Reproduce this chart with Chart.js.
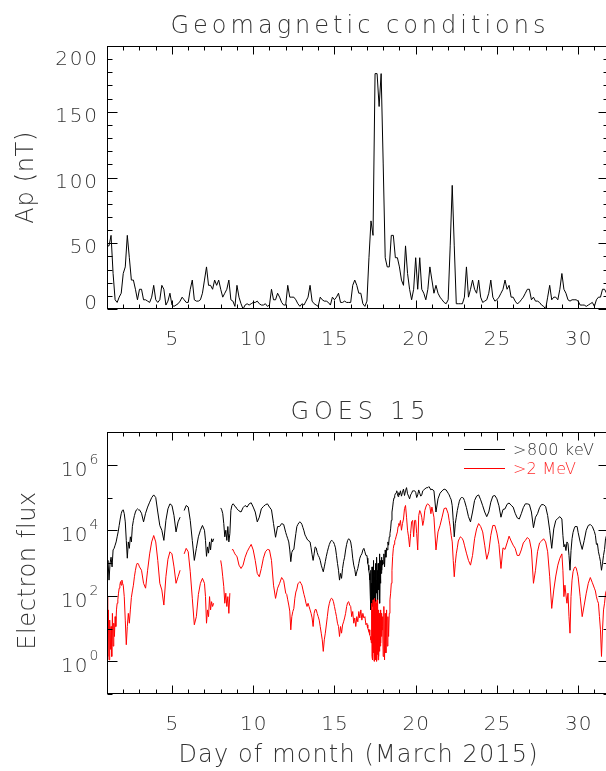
<!DOCTYPE html>
<html>
<head>
<meta charset="utf-8">
<script src="https://cdn.jsdelivr.net/npm/chart.js@4.4.1/dist/chart.umd.min.js"></script>
<style>
  html, body { margin: 0; padding: 0; background: #fff; overflow: hidden; }
  #wrap { position: relative; width: 606px; height: 771px; overflow: hidden; }
  canvas { position: absolute; left: 0; }
  #apChart { top: 0; }
  #fluxChart { top: 385px; }
</style>
</head>
<body>
<div id="wrap">
  <canvas id="apChart" width="620" height="385"></canvas>
  <canvas id="fluxChart" width="620" height="386"></canvas>
</div>
<script>
// 3-hourly ap index, March 2015 (8 values per day, starting 1 March 00 UT)
const apValues = [
  48, 48, 56, 27, 7, 5, 9, 12,
  27, 32, 56, 39, 22, 22, 15, 7,
  15, 15, 7, 7, 6, 5, 9, 18,
  7, 5, 7, 18, 15, 3, 6, 12,
  3, 2, 3, 4, 6, 9, 7, 5,
  5, 15, 22, 7, 6, 6, 7, 12,
  22, 32, 18, 18, 15, 22, 18, 22,
  15, 9, 12, 15, 22, 7, 6, 2,
  18, 9, 4, 0, 3, 4, 3, 4,
  5, 5, 6, 4, 3, 3, 4, 2,
  3, 15, 7, 7, 12, 9, 5, 3,
  3, 18, 9, 9, 9, 7, 4, 2,
  4, 3, 6, 9, 18, 6, 4, 3,
  2, 9, 7, 6, 6, 5, 3, 9,
  7, 9, 12, 5, 5, 6, 5, 5,
  5, 18, 22, 18, 12, 12, 4, 2,
  6, 39, 67, 56, 179, 179, 154, 179,
  111, 39, 32, 32, 56, 56, 39, 39,
  32, 22, 18, 48, 27, 15, 7, 15,
  39, 15, 39, 15, 12, 7, 15, 32,
  22, 12, 18, 12, 9, 7, 5, 4,
  7, 48, 94, 48, 4, 4, 4, 4,
  9, 32, 9, 15, 22, 15, 12, 22,
  9, 5, 6, 7, 12, 22, 9, 6,
  7, 9, 12, 15, 22, 15, 18, 9,
  9, 6, 4, 5, 7, 9, 12, 15,
  15, 7, 9, 6, 6, 5, 3, 2,
  0, 9, 18, 7, 9, 9, 7, 15,
  27, 15, 12, 7, 6, 7, 7, 7,
  6, 3, 3, 3, 2, 3, 4, 5,
  2, 7, 9, 9, 15, 15, 12, 12
];

// GOES 15 >800 keV electron flux, one row per day, samples evenly spread over the day
const flux800 = [
  [6.0e2, 1.2e3, 3.0e2, 9.7e2, 1.5e3, 7.6e2, 2.5e3, 2.8e3, 3.5e3, 4.4e3, 6.3e3, 8.9e3, 1.4e4, 2.2e4, 3.2e4, 4.0e4],
  [4.2e4, 3.2e4, 1.8e4, 4.9e3, 1.4e3, 4.4e3, 2.8e3, 6.3e3, 4.4e3, 1.3e4, 2.0e4, 2.8e4, 3.6e4, 4.2e4, 4.5e4, 4.2e4],
  [4.2e4, 3.3e4, 1.8e4, 3.3e4, 5.1e4, 7.2e4, 9.9e4, 1.2e5],
  [1.0e5, 3.6e4, 1.4e4, 1.0e4, 4.9e3, 2.0e4, 4.5e4, 6.4e4],
  [5.7e4, 2.8e4, 8.9e3, 1.8e4, 2.5e4, null, 4.0e4, 5.7e4],
  [5.1e4, 2.0e4, 4.9e3, 1.2e3, 2.8e3, 6.3e3, 1.0e4, 1.4e4],
  [1.0e4, 4.9e3, 1.6e3, 3.1e3, 2.0e3, 4.4e3, 2.5e3, 5.5e3, 4.4e3, 5.5e3, null, null, null, null, null, null],
  [4.8e4, 4.2e4, 3.2e4, 1.6e4, 6.3e3, 1.0e4, 4.9e3, 1.3e4, 4.4e3, 7.9e3, 4.0e4, 5.7e4, 6.4e4, 6.1e4, 5.3e4, 5.1e4],
  [4.5e4, 3.9e4, 3.6e4, 4.9e4, 5.7e4, 5.1e4, 6.4e4, 6.9e4],
  [5.1e4, 3.6e4, 1.8e4, 2.5e4, 4.5e4, 5.3e4, 6.0e4, 6.4e4],
  [5.1e4, 4.2e4, 1.6e4, 6.1e3, 1.3e4, 1.3e4, 1.6e4, 1.5e4],
  [8.6e3, 6.8e3, 5.5e3, 4.4e3, 2.5e3, 1.1e3, 2.1e3, 2.5e3, 2.6e3, 4.7e3, 7.9e3, 1.3e4, 1.5e4, 1.7e4, 1.8e4, 1.7e4],
  [1.5e4, 1.2e4, 9.6e3, 7.2e3, 6.3e3, 5.4e3, 4.9e3, 4.7e3, 4.4e3, 2.9e3, 1.8e3, 1.2e3, 1.9e3, 3.1e3, 2.9e3, 2.1e3],
  [1.7e3, 1.5e3, 1.2e3, 8.6e2, 6.8e2, 5.4e2, 7.6e2, 1.1e3, 1.6e3, 2.2e3, 2.9e3, 3.7e3, 4.4e3, 4.9e3, 4.7e3, 4.4e3],
  [3.7e3, 2.9e3, 1.7e3, 9.7e2, 6.0e2, 3.0e2, 4.8e2, 3.4e2, 6.8e2, 1.1e3, 1.5e3, 2.5e3, 3.7e3, 4.9e3, 5.5e3, 5.2e3],
  [4.4e3, 2.8e3, 1.4e3, 8.6e2, 6.4e2, 4.0e2, 5.4e2, 6.8e2, 9.7e2, 1.4e3, 1.7e3, 1.9e3, 2.5e3, 2.8e3, 2.2e3, 1.7e3],
  [1.7e3, 1.4e3, 1.2e3, 9.7e2, 8.6e2, 6.8e2, 6.0e2, 4.8e2, 3.8e2, 3.0e2,
   94, 6.0e2, 37, 2.4e2, 59, 7.6e2, 47, 3.0e2, 94, 1.2e3, 59, 3.8e2, 75, 6.0e2, 1.5e2, 9.7e2, 47, 3.0e2, 1.2e2,
   1.5e3, 2.4e2, 6.0e2, 75, 9.7e2, 1.5e2, 4.8e2, 3.0e2, 1.9e3, 59, 7.6e2, 2.4e2, 1.2e3, 4.8e2, 1.5e3, 6.0e2, 1.2e3, 8.6e2, 1.1e3],
  [9.7e2, 1.9e3, 7.6e2, 2.5e3, 1.5e3, 2.9e3, 2.5e3, 4.4e3, 3.5e3, 6.3e3, 7.9e3, 1.1e4, 2.0e4, 3.6e4, 5.1e4, 7.7e4, 9.8e4, 1.15e5, 1.3e5, 1.4e5, 1.6e5, 1.3e5, 1.07e5, 1.4e5],
  [1.2e5, 1.6e5, 1.1e5, 1.45e5, 1.8e5, 1.15e5, 1.6e5, 2.0e5, 1.3e5, 1.1e5, 9.1e4, 1.2e5, 1.35e5, 1.6e5, 1.6e5, 1.6e5],
  [1.45e5, 1.0e5, 1.2e5, 1.7e5, 1.35e5, 1.1e5, 1.2e5, 1.6e5, 1.7e5, 1.8e5, 1.95e5, 2.0e5, 2.0e5, 2.15e5, 1.95e5, 1.7e5],
  [1.8e5, 1.6e5, 3.6e4, 9.1e4, 1.35e5, 1.6e5, 1.8e5, 1.7e5],
  [1.35e5, 1.2e5, 1.0e5, 8.5e4, 5.6e4, 2.0e4, 6.3e3, 1.6e4, 2.5e4, 4.0e4, 5.6e4, 7.7e4, 9.1e4, 1.0e5, 1.0e5, 9.6e4],
  [8.1e4, 4.9e4, 2.6e4, 1.8e4, 3.6e4, 8.1e4, 1.1e5, 1.2e5],
  [8.5e4, 5.6e4, 3.6e4, 2.6e4, 3.6e4, 7.2e4, 1.1e5, 1.15e5],
  [9.1e4, 5.6e4, 2.5e4, 4.3e4, 4.5e4, 6.2e4, 6.8e4, 5.8e4],
  [5.1e4, 3.3e4, 2.4e4, 2.2e4, 3.2e4, 4.9e4, 6.4e4, 6.4e4],
  [6.1e4, 3.6e4, 1.2e4, 2.5e4, 3.2e4, 4.9e4, 6.1e4, 6.0e4],
  [5.3e4, 2.8e4, 1.0e4, 2.8e3, 1.1e4, 2.0e4, 2.3e4, 2.6e4],
  [2.2e4, 7.0e3, 3.1e3, 3.7e3, 2.4e3, 4.4e3, 3.9e3, 1.7e3, 6.0e2, 2.4e3, 5.5e3, 8.6e3, 1.1e4, 1.3e4, 1.3e4, 1.3e4],
  [8.6e3, 4.4e3, 2.6e3, 4.9e3, 1.0e4, 1.4e4, 1.5e4, 1.3e4],
  [9.1e3, 7.0e3, 3.7e3, 3.9e3, 2.2e3, 1.6e3, 1.1e3, 6.0e2, 9.7e2, 1.7e3, 2.6e3, 5.5e3, 7.0e3, 7.9e3, 8.6e3, 8.6e3]
];

// GOES 15 >2 MeV electron flux, same layout
const flux2MeV = [
  [94, 1.4, 37, 1.1, 18, 2.3, 11.5, 1.4, 29, 2.9, 14.5, 5.7, 23, 11.5, 37, 59, 75, 120, 170, 210, 270, 210, 300, 240],
  [210, 94, 18, 3.2, 11.5, 29, 14.5, 37, 88, 140, 210, 380, 600, 860, 1.0e3, 9.2e2],
  [7.6e2, 6.0e2, 2.4e2, 1.7e2, 6.0e2, 1.9e3, 4.4e3, 6.9e3],
  [4.4e3, 1.2e3, 2.4e2, 1.5e2, 52, 3.8e2, 1.3e3, 2.2e3],
  [1.9e3, 7.6e2, 2.4e2, 3.8e2, 6.0e2, null, 1.9e3, 2.8e3],
  [2.2e3, 5.4e2, 84, 13, 23, 1.1e2, 2.4e2, 3.4e2],
  [2.4e2, 94, 14.5, 37, 23, 94, 37, 66, 47, 59, null, null, null, null, null, null],
  [1.2e3, 7.6e2, 3.8e2, 1.9e2, 59, 1.2e2, 47, 94, 29, 1.2e2, null, 2.5e3, 2.6e3, 2.2e3, 1.9e3, 1.7e3],
  [1.6e3, 8.6e2, 6.8e2, 8.6e2, 1.5e3, 2.2e3, 2.9e3, 3.7e3],
  [2.5e3, 1.2e3, 4.8e2, 3.8e2, 6.8e2, 1.4e3, 2.2e3, 2.6e3],
  [2.5e3, 1.2e3, 2.1e2, 83, 1.7e2, 2.4e2, 3.6e2, 2.9e2],
  [1.2e2, 1.1e2, 75, 52, 34, 9.1, 23, 33, 41, 84, 1.3e2, 1.6e2, 2.3e2, 2.5e2, 2.7e2, 2.4e2],
  [2.1e2, 1.5e2, 1.1e2, 84, 59, 47, 59, 47, 37, 29, 21, 11.5, 29, 38, 38, 29],
  [23, 18, 11.5, 7.2, 4.5, 2.0, 4.5, 7.2, 12.8, 23, 42, 59, 75, 84, 80, 66],
  [47, 33, 23, 14.5, 11.5, 5.7, 11.5, 7.2, 12.8, 16, 21, 29, 47, 62, 66, 52],
  [47, 23, 33, 14.5, 21, 11.5, 23, 16, 33, 21, 37, 18, 29, 21, 23, 13],
  [14.5, 11.5, 13, 10.3, 9.1, 9.6, 8.1, 7.2, 9.1, 6.4, 5.7, 4.5, 5.1, 3.6,
   59, 1.4, 37, 1.1, 75, 1.8, 47, 1.0, 84, 1.4, 29, 1.1, 66, 1.3, 59, 1.0, 75, 1.6,
   47, 1.1, 37, 1.4, 29, 2.0, 23, 2.9, 37, 3.6, 29, 5.7, 18, 9.1, 23, 11.5],
  [1.4, 47, 1.1, 29, 1.8, 37, 2.9, 23, 5.7, 29, 75, 1.2e2, 2.4e2, 6.0e2, 1.6e3, 2.8e3, 3.7e3, 4.7e3, 5.2e3, 6.3e3, 6.3e3, 8.9e3, 1.3e4, 1.6e4],
  [1.4e4, 2.0e4, 1.0e4, 1.6e4, 2.2e4, 4.6e4, 5.7e4, 2.5e4, 1.0e4, 6.3e3, 3.1e3, 7.9e3, 1.8e4, 2.0e4, 6.3e3, 2.0e4],
  [2.0e4, 7.9e3, 2.5e3, 2.8e4, 4.0e4, 3.4e4, 2.5e4, 1.4e4, 2.0e4, 4.0e4, 5.1e4, 6.1e4, 6.4e4, 6.0e4, 5.3e4, 3.2e4],
  [5.1e4, 2.5e4, 2.5e3, 8.9e3, 1.4e4, 2.5e4, 4.6e4, 4.8e4],
  [3.2e4, 2.0e4, 1.3e4, 7.0e3, 4.4e3, 1.2e3, 3.8e2, 9.7e2, 1.9e3, 2.9e3, 4.7e3, 5.5e3, 6.3e3, 6.0e3, 5.5e3, 4.7e3],
  [3.5e3, 2.0e3, 1.2e3, 8.6e2, 1.7e3, 5.5e3, 1.1e4, 1.6e4],
  [1.3e4, 8.9e3, 3.5e3, 1.3e3, 2.2e3, 7.0e3, 1.4e4, 1.4e4],
  [8.2e3, 3.7e3, 6.8e2, 2.9e3, 2.6e3, 4.1e3, 6.6e3, 4.7e3],
  [3.5e3, 2.8e3, 1.7e3, 1.7e3, 2.5e3, 4.1e3, 4.9e3, 6.0e3],
  [5.2e3, 2.5e3, 2.4e2, 6.0e2, 2.2e3, 4.1e3, 4.7e3, 5.5e3],
  [4.4e3, 2.2e3, 3.8e2, 41, 1.5e2, 4.0e2, 8.6e2, 1.4e3],
  [1.9e3, 6.0e2, 94, 2.1e2, 1.05e2, 59, 1.2e2, 23, 7.2, 94, 3.0e2, 5.4e2, 6.8e2, 7.6e2, 7.2e2, 5.4e2],
  [3.8e2, 94, 23, 52, 1.2e2, 2.4e2, 3.6e2, 2.5e2],
  [1.7e2, 1.4e2, 94, 71, 59, 23, 9.1, 1.4, 9.1, 37, 59, 1.2e2, 1.5e2, 1.7e2, 1.9e2, 1.9e2]
];

const dayTicks = [5, 10, 15, 20, 25, 30];
const apTicks = [0, 50, 100, 150, 200];
const fluxTickExps = [0, 2, 4, 6];
const seriesLabels = ['>800 keV', '>2 MeV'];
const seriesColors = ['#000000', '#ff0000'];

const TEXT = '#333';
const FONT = '"DejaVu Sans", "Liberation Sans", sans-serif';

// draw text with letter spacing; either a fixed spacing or stretched to a target width
function spacedText(ctx, text, x, y, size, opt) {
  ctx.save();
  ctx.font = `200 ${size}px ${FONT}`;
  ctx.fillStyle = opt.color || TEXT;
  ctx.letterSpacing = '0px';
  const natural = ctx.measureText(text).width;
  let gap = opt.spacing || 0;
  if (opt.width && text.length > 1) gap = (opt.width - natural) / (text.length - 1);
  ctx.letterSpacing = gap + 'px';
  const span = natural + gap * (text.length - 1);
  let left = x;
  if (opt.align === 'center') left = x - span / 2;
  else if (opt.align === 'right') left = x - span;
  ctx.textAlign = 'left';
  ctx.textBaseline = 'alphabetic';
  ctx.fillText(text, left, y);
  ctx.restore();
}

function rotatedText(ctx, text, x, y, size, width) {
  ctx.save();
  ctx.translate(x, y);
  ctx.rotate(-Math.PI / 2);
  spacedText(ctx, text, 0, 0, size, { width: width, align: 'center' });
  ctx.restore();
}

// IDL-like box axes: inward ticks on all four sides plus labels
const idlFrame = {
  id: 'idlFrame',
  afterDraw(chart, args, opts) {
    const { ctx, chartArea: a } = chart;
    const x = chart.scales.x, y = chart.scales.y;
    const L = Math.round(a.left) + 0.5, R = Math.round(a.right) - 0.5;
    const T = Math.round(a.top) + 0.5, B = Math.round(a.bottom) - 0.5;

    ctx.save();
    ctx.strokeStyle = '#000';
    ctx.lineWidth = 1;
    ctx.strokeRect(L, T, R - L, B - T);
    ctx.beginPath();
    for (let d = Math.ceil(x.min); d <= x.max; d++) {
      const px = Math.round(x.getPixelForValue(d)) + 0.5;
      const len = d % 5 === 0 ? 8 : 4;
      ctx.moveTo(px, B); ctx.lineTo(px, B - len);
      ctx.moveTo(px, T); ctx.lineTo(px, T + len);
    }
    opts.yTicks.forEach(t => {
      const py = Math.round(y.getPixelForValue(t.value)) + 0.5;
      const len = t.major ? 10 : 5;
      ctx.moveTo(L, py); ctx.lineTo(L + len, py);
      ctx.moveTo(R, py); ctx.lineTo(R - len, py);
    });
    ctx.stroke();
    ctx.restore();

    dayTicks.forEach(d => {
      spacedText(ctx, String(d), x.getPixelForValue(d), a.bottom + 36, 20, { spacing: 1, align: 'center' });
    });

    if (opts.logLabels) {
      fluxTickExps.forEach(e => {
        const py = y.getPixelForValue(Math.pow(10, e));
        spacedText(ctx, '10', 87.5, py + 11, 20, { spacing: 1, align: 'right' });
        spacedText(ctx, String(e), 89.5, py - 1, 14, { align: 'left' });
      });
    } else {
      apTicks.forEach(v => {
        const py = y.getPixelForValue(v);
        const base = Math.min(Math.max(py + 10, a.top + 19), a.bottom);
        spacedText(ctx, String(v), 97, base, 20, { spacing: 1.8, align: 'right' });
      });
    }

    const cx = 358;
    spacedText(ctx, opts.title, cx, a.top - 13.5, 24, { width: opts.titleWidth, align: 'center' });
    rotatedText(ctx, opts.yTitle, opts.yTitleX, opts.yTitleY, 24, opts.yTitleWidth);
    if (opts.xTitle) {
      spacedText(ctx, opts.xTitle, cx, a.bottom + 68, 24, { width: 359, align: 'center' });
    }
    if (opts.legend) {
      seriesLabels.forEach((label, i) => {
        const ly = 64 + i * 18.7;
        ctx.save();
        ctx.strokeStyle = seriesColors[i];
        ctx.lineWidth = 1;
        ctx.beginPath();
        ctx.moveTo(464, Math.round(ly) + 0.5);
        ctx.lineTo(505, Math.round(ly) + 0.5);
        ctx.stroke();
        ctx.restore();
        spacedText(ctx, label, 513, ly + 6, 16, { width: i === 0 ? 81 : 63, align: 'left', color: i === 0 ? TEXT : '#ff2a2a' });
      });
    }
  }
};

function dailyPoints(days) {
  const pts = [];
  days.forEach((vals, d) => {
    vals.forEach((v, i) => pts.push({ x: d + 1 + i / vals.length, y: v }));
  });
  return pts;
}

const apTickList = [];
for (let v = 0; v <= 200; v += 10) apTickList.push({ value: v, major: v % 50 === 0 });
const logTickList = [];
for (let e = -1; e <= 7; e++) logTickList.push({ value: Math.pow(10, e), major: e % 2 === 0 });

const baseOptions = {
  responsive: false,
  animation: false,
  devicePixelRatio: 1,
  events: [],
  plugins: { legend: { display: false }, title: { display: false }, tooltip: { enabled: false } },
  elements: { point: { radius: 0 }, line: { borderWidth: 1, tension: 0 } }
};

new Chart(document.getElementById('apChart'), {
  type: 'line',
  data: {
    datasets: [{
      data: apValues.map((v, i) => ({ x: 1 + i / 8, y: v })),
      borderColor: '#000',
      borderWidth: 1
    }]
  },
  options: {
    ...baseOptions,
    layout: { padding: { left: 107, right: 11, top: 46, bottom: 76 } },
    scales: {
      x: { type: 'linear', min: 1, max: 31.9, display: false },
      y: { type: 'linear', min: 0, max: 200, display: false }
    },
    plugins: {
      ...baseOptions.plugins,
      idlFrame: {
        yTicks: apTickList,
        title: 'Geomagnetic conditions', titleWidth: 375,
        yTitle: 'Ap (nT)', yTitleX: 33, yTitleY: 177.7, yTitleWidth: 92
      }
    }
  },
  plugins: [idlFrame]
});

new Chart(document.getElementById('fluxChart'), {
  type: 'line',
  data: {
    datasets: [
      { label: seriesLabels[0], data: dailyPoints(flux800), borderColor: seriesColors[0], borderWidth: 1, order: 1, spanGaps: false },
      { label: seriesLabels[1], data: dailyPoints(flux2MeV), borderColor: seriesColors[1], borderWidth: 1, order: 0, spanGaps: false }
    ]
  },
  options: {
    ...baseOptions,
    layout: { padding: { left: 107, right: 11, top: 47, bottom: 77 } },
    scales: {
      x: { type: 'linear', min: 1, max: 31.9, display: false },
      y: { type: 'logarithmic', min: 0.1, max: 1e7, display: false }
    },
    plugins: {
      ...baseOptions.plugins,
      idlFrame: {
        yTicks: logTickList, logLabels: true,
        title: 'GOES 15', titleWidth: 135,
        yTitle: 'Electron flux', yTitleX: 35, yTitleY: 185.8, yTitleWidth: 158,
        xTitle: 'Day of month (March 2015)', legend: true
      }
    }
  },
  plugins: [idlFrame]
});
</script>
</body>
</html>
